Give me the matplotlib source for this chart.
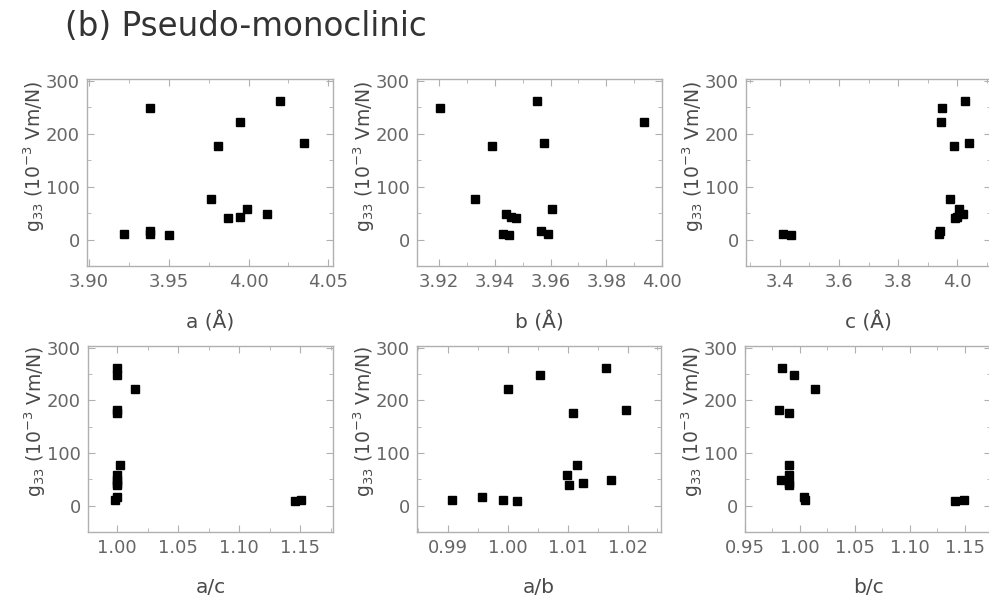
import matplotlib
matplotlib.use("Agg")
import matplotlib.pyplot as plt
from matplotlib.ticker import MultipleLocator, FormatStrFormatter

# g33 values (10^-3 Vm/N), read per panel
g33 = [262, 248, 222, 182, 176, 77, 58, 48, 43, 40, 16, 11, 11, 8]

a_vals = [4.0197, 3.9384, 3.9945, 4.0350, 3.9807, 3.9767, 3.9992, 4.0115,
          3.9945, 3.9872, 3.9384, 3.9384, 3.9218, 3.9499]
b_vals = [3.9551, 3.9204, 3.9934, 3.9576, 3.9389, 3.9329, 3.9605, 3.9441,
          3.9459, 3.9477, 3.9564, 3.9428, 3.9592, 3.9449]
c_vals = [4.027, 3.948, 3.946, 4.042, 3.988, 3.976, 4.005, 4.019,
          4.000, 3.993, 3.943, 3.940, 3.411, 3.436]
ac_vals = [0.9995, 0.9995, 1.0145, 0.9995, 0.9995, 1.002, 0.9995, 0.9995,
           0.9995, 0.9995, 1.000, 0.998, 1.151, 1.1456]
ab_vals = [1.0164, 1.0053, 1.0001, 1.0197, 1.0109, 1.0116, 1.0098, 1.0173,
           1.0126, 1.0102, 0.9956, 0.9907, 0.9991, 1.0015]
bc_vals = [0.984, 0.9945, 1.0136, 0.981, 0.9897, 0.990, 0.990, 0.983,
           0.990, 0.990, 1.0036, 1.005, 1.149, 1.141]

x_labels = ["a (Å)", "b (Å)", "c (Å)", "a/c", "a/b", "b/c"]
x_limits = [(3.8987, 4.053), (3.912, 4.0), (3.285, 4.115),
            (0.976, 1.177), (0.9848, 1.0256), (0.95, 1.174)]
x_major = [0.05, 0.02, 0.2, 0.05, 0.01, 0.05]
x_fmt = ["%.2f", "%.2f", "%.1f", "%.2f", "%.2f", "%.2f"]
x_series = [a_vals, b_vals, c_vals, ac_vals, ab_vals, bc_vals]

spine_col = "#b0b0b0"
tick_col = "#666666"
label_col = "#4a4a4a"

fig = plt.figure(figsize=(9.89, 6.04), dpi=100)
W, H = 989.0, 604.0

# pixel boxes (left, right, top, bottom)
boxes = [(87, 333, 79, 266), (417, 662, 79, 266), (746, 991, 79, 266),
         (88, 333, 346, 532), (417, 661, 346, 532), (745, 991, 346, 532)]

for i in range(6):
    l, r, t, b = boxes[i]
    ax = fig.add_axes([l / W, 1 - b / H, (r - l) / W, (b - t) / H])
    ax.plot(x_series[i], g33, "s", color="black", ms=6.3, linestyle="none")
    ax.set_xlim(*x_limits[i])
    ax.set_ylim(-50, 303)
    ax.xaxis.set_major_locator(MultipleLocator(x_major[i]))
    ax.xaxis.set_minor_locator(MultipleLocator(x_major[i] / 2))
    ax.xaxis.set_major_formatter(FormatStrFormatter(x_fmt[i]))
    ax.yaxis.set_major_locator(MultipleLocator(100))
    ax.yaxis.set_minor_locator(MultipleLocator(50))
    for s in ax.spines.values():
        s.set_color(spine_col)
        s.set_linewidth(1.0)
    ax.tick_params(which="both", direction="in", top=True, right=True,
                   color=spine_col, labelcolor=tick_col, labelsize=13)
    ax.tick_params(which="major", length=5, pad=5)
    ax.tick_params(which="minor", length=3)
    ax.set_xlabel(x_labels[i], fontsize=14.5, color=label_col, va="center")
    ax.xaxis.set_label_coords(0.5, -0.30)
    ax.set_ylabel(r"g$_{33}$ (10$^{-3}$ Vm/N)", fontsize=13.5,
                  color=label_col, va="center")
    ax.yaxis.set_label_coords(-0.215, 0.585 if i < 3 else 0.595)

fig.text(65 / W, 1 - 27 / H, "(b) Pseudo-monoclinic", fontsize=23.5,
         color="#333333", ha="left", va="center")

fig.savefig("out.png", dpi=100)
